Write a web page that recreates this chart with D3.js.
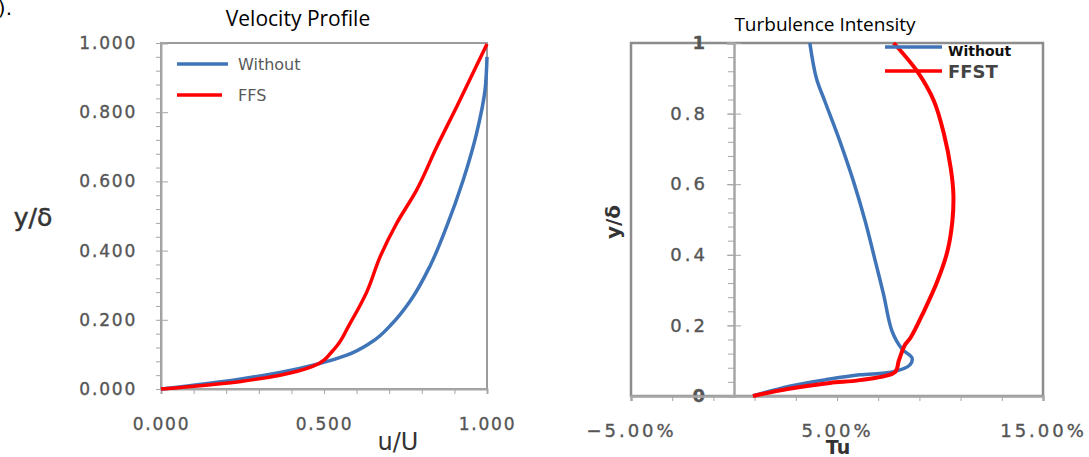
<!doctype html>
<html>
  <head>
    <meta charset="utf-8">
    <title>Velocity Profile and Turbulence Intensity</title>
    <script src="https://cdnjs.cloudflare.com/ajax/libs/d3/7.8.5/d3.min.js"></script>
    <style>
      html, body { margin: 0; padding: 0; background: #fff; }
      svg { display: block; }
      .tick text { font-family: "DejaVu Sans", sans-serif; fill: #555; stroke: #555; stroke-width: 0.35px; }
    </style>
  </head>
  <body>
    <div id="chart"></div>
    <script>
      // velocity profile, u/U against y/delta
      const withoutU = [0, 0.245, 0.365, 0.488, 0.57, 0.645, 0.71, 0.765, 0.825, 0.876, 0.927, 0.968, 0.994, 1.0];
      const withoutY = [0, 0.029, 0.048, 0.074, 0.098, 0.135, 0.19, 0.255, 0.355, 0.469, 0.604, 0.739, 0.864, 0.96];
      const ffsU = [0, 0.245, 0.365, 0.467, 0.529, 0.58, 0.631, 0.672, 0.723, 0.784, 0.846, 0.907, 1.0];
      const ffsY = [0, 0.022, 0.04, 0.066, 0.113, 0.19, 0.28, 0.382, 0.479, 0.575, 0.7, 0.816, 0.997];

      // turbulence intensity in %, against y/delta
      const tuWithout = [0.92, 2.7, 4.66, 6.1, 7.7, 8.54, 8.64, 8.16, 7.67, 7.26, 6.86, 6.37, 5.8, 5.15, 4.41, 4.0, 3.68];
      const tuWithoutY = [0, 0.028, 0.048, 0.06, 0.068, 0.088, 0.108, 0.133, 0.184, 0.288, 0.382, 0.495, 0.608, 0.72, 0.835, 0.9, 1.0];
      const tuFfst = [0.92, 2.6, 4.66, 6.1, 7.82, 8.0, 8.3, 8.57, 9.22, 9.87, 10.36, 10.6, 10.65, 10.52, 10.2, 9.71, 8.89, 7.75];
      const tuFfstY = [0, 0.02, 0.037, 0.045, 0.068, 0.1, 0.145, 0.165, 0.24, 0.325, 0.41, 0.495, 0.571, 0.646, 0.74, 0.835, 0.92, 1.0];

      const velXTicks = [0, 0.5, 1];
      const velYTicks = [0, 0.2, 0.4, 0.6, 0.8, 1];
      const tuXTicks = [-5, 5, 15];
      const tuYTicks = [0, 0.2, 0.4, 0.6, 0.8, 1];

      const blue = '#3f75b8';
      const red = '#ff0000';
      const axisGrey = '#a6a6a6';

      const svg = d3.select('#chart').append('svg')
        .attr('width', 1089)
        .attr('height', 457);

      // cropped panel label
      svg.append('text')
        .attr('x', 12).attr('y', 15)
        .attr('text-anchor', 'end')
        .style('font-family', 'DejaVu Sans, sans-serif')
        .style('font-size', '20px')
        .text('(b).');

      const pts = (xs, ys) => xs.map((d, i) => [d, ys[i]]);

      // ---------- left chart ----------
      const ax = d3.scaleLinear().domain([0, 1]).range([161, 487]);
      const ay = d3.scaleLinear().domain([0, 1]).range([389, 43]);
      const left = svg.append('g');

      left.append('rect')
        .attr('x', ax(0)).attr('y', ay(1))
        .attr('width', ax(1) - ax(0)).attr('height', ay(0) - ay(1))
        .attr('fill', 'none').attr('stroke', '#9c9c9c').attr('stroke-width', 2);

      // minor y ticks every 0.04 on the outside
      left.append('g')
        .attr('transform', `translate(${ax(0)},0)`)
        .call(d3.axisLeft(ay).tickValues(d3.range(0, 1.001, 0.04)).tickSize(5).tickFormat(''))
        .call(g => g.select('.domain').remove())
        .call(g => g.selectAll('line').attr('stroke', axisGrey));

      left.append('g')
        .attr('transform', `translate(${ax(0)},0)`)
        .call(d3.axisLeft(ay).tickValues(velYTicks).tickSize(-7).tickPadding(24).tickFormat(d3.format('.3f')))
        .call(g => g.select('.domain').attr('stroke', axisGrey).attr('stroke-width', 2))
        .call(g => g.selectAll('line').attr('stroke', axisGrey))
        .call(g => g.selectAll('text').style('font-size', '17px').style('letter-spacing', '1.8px'));

      left.append('g')
        .attr('transform', `translate(0,${ay(0)})`)
        .call(d3.axisBottom(ax).tickValues(d3.range(0, 1.001, 0.1)).tickSize(5).tickFormat(''))
        .call(g => g.select('.domain').attr('stroke', axisGrey).attr('stroke-width', 2))
        .call(g => g.selectAll('line').attr('stroke', axisGrey));

      left.append('g')
        .attr('transform', `translate(0,${ay(0)})`)
        .call(d3.axisBottom(ax).tickValues(velXTicks).tickSize(0).tickPadding(29).tickFormat(d3.format('.3f')))
        .call(g => g.select('.domain').remove())
        .call(g => g.selectAll('text').style('font-size', '17px').style('letter-spacing', '1.8px'));

      // y grows monotonically along both profiles
      const velLine = d3.line()
        .x(d => ax(d[0])).y(d => ay(d[1]))
        .curve(d3.curveMonotoneY);

      left.append('path')
        .attr('d', velLine(pts(withoutU, withoutY)))
        .attr('fill', 'none').attr('stroke', blue).attr('stroke-width', 3.5);
      left.append('path')
        .attr('d', velLine(pts(ffsU, ffsY)))
        .attr('fill', 'none').attr('stroke', red).attr('stroke-width', 3.5);

      // legend
      const velLegend = [
        { name: 'Without', color: blue, y: 64, x2: 228 },
        { name: 'FFS', color: red, y: 95, x2: 222 }
      ];
      const lg = left.selectAll('g.leg').data(velLegend).join('g').attr('class', 'leg');
      lg.append('line')
        .attr('x1', 177).attr('x2', d => d.x2)
        .attr('y1', d => d.y).attr('y2', d => d.y)
        .attr('stroke', d => d.color).attr('stroke-width', 3.5);
      lg.append('text')
        .attr('x', 238).attr('y', d => d.y + 6)
        .style('font-family', 'DejaVu Sans, sans-serif')
        .style('font-size', '16px')
        .attr('fill', '#595959')
        .text(d => d.name);

      left.append('text')
        .attr('x', 298).attr('y', 26)
        .attr('text-anchor', 'middle')
        .style('font-family', 'Open Sans, sans-serif')
        .style('font-size', '21px')
        .text('Velocity Profile');

      left.append('text')
        .attr('x', 33).attr('y', 226)
        .attr('text-anchor', 'middle')
        .style('font-family', 'DejaVu Sans, sans-serif')
        .style('font-size', '25px')
        .attr('fill', '#333')
        .attr('stroke', '#333').attr('stroke-width', 0.5)
        .text('y/δ');

      left.append('text')
        .attr('x', 398).attr('y', 450)
        .attr('text-anchor', 'middle')
        .style('font-family', 'DejaVu Sans, sans-serif')
        .style('font-size', '24px')
        .attr('fill', '#333')
        .text('u/U');

      // ---------- right chart ----------
      const rx = d3.scaleLinear().domain([-5, 15]).range([631, 1043]);
      const ry = d3.scaleLinear().domain([0, 1]).range([396, 43]);
      const right = svg.append('g');

      right.append('rect')
        .attr('x', rx(-5)).attr('y', ry(1))
        .attr('width', rx(15) - rx(-5)).attr('height', ry(0) - ry(1))
        .attr('fill', 'none').attr('stroke', '#8c8c8c').attr('stroke-width', 2.5);

      right.append('g')
        .attr('transform', `translate(${rx(0)},0)`)
        .call(d3.axisLeft(ry).tickValues(d3.range(0, 1.001, 0.04)).tickSize(6).tickFormat(''))
        .call(g => g.select('.domain').remove())
        .call(g => g.selectAll('line').attr('stroke', axisGrey));

      right.append('g')
        .attr('transform', `translate(${rx(0)},0)`)
        .call(d3.axisLeft(ry).tickValues(tuYTicks).tickSize(7).tickPadding(19).tickFormat(d => d === 0 || d === 1 ? d : d3.format('.1f')(d)))
        .call(g => g.select('.domain').attr('stroke', axisGrey).attr('stroke-width', 2.5))
        .call(g => g.selectAll('line').attr('stroke', axisGrey).attr('x2', 7).attr('x1', -7))
        .call(g => g.selectAll('text').style('font-size', '18px').style('letter-spacing', '3px'))
        .call(g => g.selectAll('.tick').filter(d => d === 0 || d === 1).select('text').attr('fill', '#444').style('font-weight', 'bold'));

      right.append('g')
        .attr('transform', `translate(0,${ry(0)})`)
        .call(d3.axisBottom(rx).tickValues(d3.range(-5, 15.001, 2)).tickSize(5).tickFormat(''))
        .call(g => g.select('.domain').attr('stroke', axisGrey).attr('stroke-width', 2.5))
        .call(g => g.selectAll('line').attr('stroke', axisGrey));

      right.append('g')
        .attr('transform', `translate(0,${ry(0)})`)
        .call(d3.axisBottom(rx).tickValues(tuXTicks).tickSize(0).tickPadding(28).tickFormat(d => d3.format('.2f')(d) + '%'))
        .call(g => g.select('.domain').remove())
        .call(g => g.selectAll('text').style('font-size', '18px').style('letter-spacing', '3px'));

      const tuLine = d3.line()
        .x(d => rx(d[0])).y(d => ry(d[1]))
        .curve(d3.curveCatmullRom.alpha(0.5));

      right.append('path')
        .attr('d', tuLine(pts(tuWithout, tuWithoutY)))
        .attr('fill', 'none').attr('stroke', blue).attr('stroke-width', 3.5);
      right.append('path')
        .attr('d', tuLine(pts(tuFfst, tuFfstY)))
        .attr('fill', 'none').attr('stroke', red).attr('stroke-width', 4);

      const tuLegend = [
        { name: 'Without', color: blue, y: 47, ty: 56, size: 14, fill: '#111' },
        { name: 'FFST', color: red, y: 71, ty: 78, size: 18, fill: '#444' }
      ];
      const rg = right.selectAll('g.leg').data(tuLegend).join('g').attr('class', 'leg');
      rg.append('line')
        .attr('x1', 885).attr('x2', 942)
        .attr('y1', d => d.y).attr('y2', d => d.y)
        .attr('stroke', d => d.color).attr('stroke-width', 3.5);
      rg.append('text')
        .attr('x', 948).attr('y', d => d.ty)
        .style('font-family', 'DejaVu Sans, sans-serif')
        .style('font-weight', 'bold')
        .style('font-size', d => d.size + 'px')
        .attr('fill', d => d.fill)
        .text(d => d.name);

      right.append('text')
        .attr('x', 825).attr('y', 31)
        .attr('text-anchor', 'middle')
        .style('font-family', 'Open Sans, sans-serif')
        .style('font-size', '19px')
        .text('Turbulence Intensity');

      right.append('text')
        .attr('transform', 'translate(620,222) rotate(-90)')
        .attr('text-anchor', 'middle')
        .style('font-family', 'DejaVu Sans, sans-serif')
        .style('font-weight', 'bold')
        .style('font-size', '20px')
        .attr('fill', '#333')
        .text('y/δ');

      right.append('text')
        .attr('x', 838).attr('y', 454)
        .attr('text-anchor', 'middle')
        .style('font-family', 'DejaVu Sans, sans-serif')
        .style('font-weight', 'bold')
        .style('font-size', '19px')
        .attr('fill', '#333')
        .text('Tu');
    </script>
  </body>
</html>
